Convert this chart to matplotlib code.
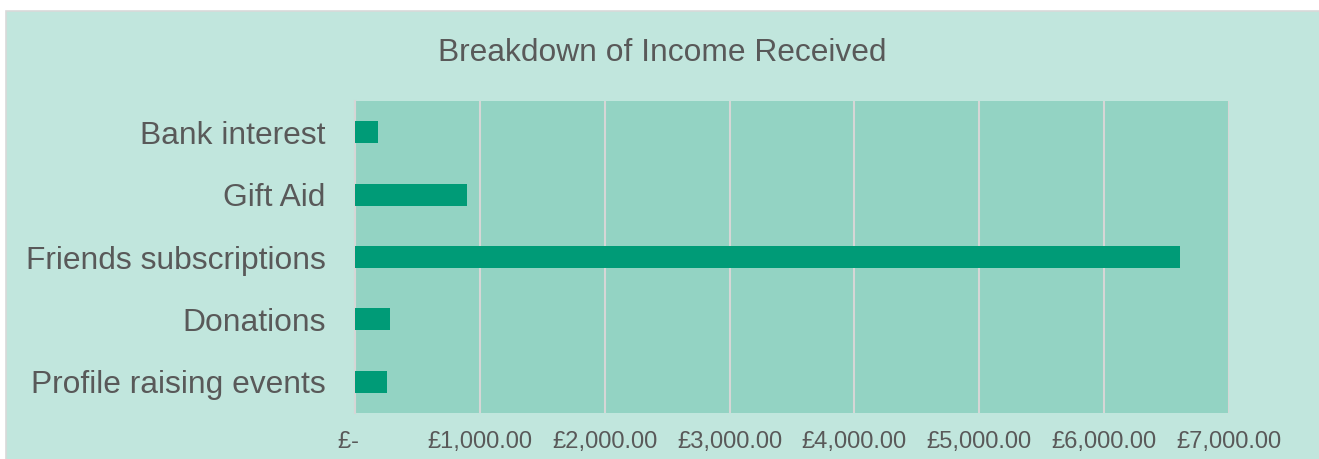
import matplotlib.pyplot as plt
from matplotlib.patches import Rectangle

plt.rcParams['font.family'] = ['Liberation Sans', 'DejaVu Sans']

categories = ['Profile raising events', 'Donations', 'Friends subscriptions', 'Gift Aid', 'Bank interest']
income = [256, 277, 6605, 897, 184]
xticks = [0, 1000, 2000, 3000, 4000, 5000, 6000, 7000]
xtick_labels = ['£-  ', '£1,000.00', '£2,000.00', '£3,000.00', '£4,000.00',
                '£5,000.00', '£6,000.00', '£7,000.00']

bg = '#C1E6DD'
plot_bg = '#93D3C3'
bar_col = '#009B77'
txt = '#595959'
grid_col = '#D6D6D6'

fig = plt.figure(figsize=(13.19, 4.59), dpi=100)
fig.patch.set_facecolor('white')
# chart area background with thin grey border (only left/top edges visible)
fig.patches.append(Rectangle((6 / 1319, -0.05), 1.05, (459 - 11) / 459 + 0.05, transform=fig.transFigure,
                             facecolor=bg, edgecolor='#D9D9D9', linewidth=1.2, zorder=-5))

ax = fig.add_axes([355 / 1319, 46 / 459, 874 / 1319, 312 / 459])
ax.set_facecolor(plot_bg)

ax.barh(categories, income, height=0.353, color=bar_col, zorder=3)

ax.set_xlim(0, 7000)
ax.set_ylim(-0.5, 4.5)
ax.set_xticks(xticks)
ax.set_xticklabels(xtick_labels)
ax.grid(axis='x', color=grid_col, linewidth=1.5, zorder=1)

for s in ['top', 'right', 'bottom']:
    ax.spines[s].set_visible(False)
ax.spines['left'].set_color(grid_col)
ax.spines['left'].set_linewidth(1.5)

ax.tick_params(axis='y', length=0, pad=21, labelsize=22.9, labelcolor=txt)
ax.tick_params(axis='x', length=0, pad=13, labelsize=17.1, labelcolor=txt)

fig.text(662 / 1319, 1 - 61 / 459, 'Breakdown of Income Received', ha='center', va='baseline',
         fontsize=22.9, color=txt)

fig.savefig('out.png', dpi=100, facecolor=fig.get_facecolor())
